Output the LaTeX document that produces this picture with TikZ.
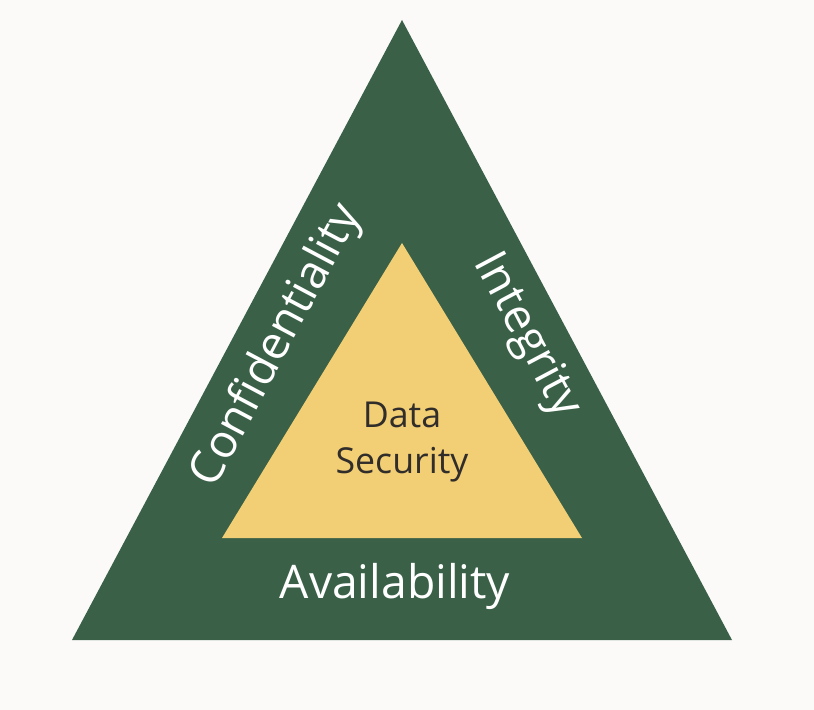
\documentclass[tikz,border=0pt]{standalone}
\usepackage{fontspec}
\setmainfont{Open Sans}
\usepackage{tikz}
\usetikzlibrary{positioning,calc}
\definecolor{bgcol}{HTML}{FBFAF9}
\definecolor{triGreen}{HTML}{3A6147}
\definecolor{triYellow}{HTML}{F2CE74}
\definecolor{darkText}{HTML}{312D2A}

\begin{document}
\begin{tikzpicture}[x=0.03cm,y=-0.03cm,
  sidelabel/.style={text=white,font=\fontsize{39.5}{44}\selectfont,inner sep=0pt},
  corelabel/.style={text=darkText,font=\fontsize{30.5}{40}\selectfont,align=center,inner sep=0pt}]
% Canvas
\fill[bgcol] (0,0) rectangle (814,710);
\useasboundingbox (0,0) rectangle (814,710);
% Outer triangle
\fill[triGreen] (402,20) -- (732,640) -- (72,640) -- cycle;
% Inner triangle
\fill[triYellow] (402,243) -- (582,538) -- (222,538) -- cycle;
% Labels
\node[corelabel] (core) at (402,442) {Data\\Security};
\node[sidelabel] (avail) at (395,586) {Availability};
\node[sidelabel,rotate=62] (conf) at (277,346) {Confidentiality};
\node[sidelabel,rotate=-62] (integ) at (526,336) {Integrity};
\end{tikzpicture}
\end{document}
